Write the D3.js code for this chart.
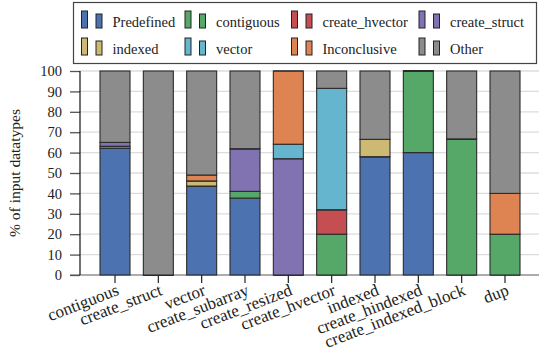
<!DOCTYPE html>
<html>
<head>
<meta charset="utf-8">
<script src="https://cdn.jsdelivr.net/npm/d3@7"></script>
<style>
  html, body { margin: 0; padding: 0; background: #fff; }
  svg { display: block; }
  text { font-family: "Liberation Serif", "Times New Roman", serif; fill: #222; }
</style>
</head>
<body>
<svg id="chart" width="539" height="352"></svg>
<script>
// Constructors (x categories)
const categories = ["contiguous", "create_struct", "vector", "create_subarray", "create_resized",
  "create_hvector", "indexed", "create_hindexed", "create_indexed_block", "dup"];

// Stacked series, bottom to top (% of input datatypes)
const seriesNames = ["Predefined", "contiguous", "create_hvector", "create_struct",
  "indexed", "vector", "Inconclusive", "Other"];
const predefined    = [62.1, 0, 43.6, 37.7, 0, 0, 58.0, 60.0, 0, 0];
const contiguous    = [1.0, 0, 0, 3.3, 0, 20.0, 0, 40.0, 66.7, 20.0];
const createHvector = [0, 0, 0, 0, 0, 12.0, 0, 0, 0, 0];
const createStruct  = [1.9, 0, 0, 20.9, 57.0, 0, 0, 0, 0, 0];
const indexed       = [0, 0, 2.5, 0, 0, 0, 8.5, 0, 0, 0];
const vector        = [0, 0, 0, 0, 7.1, 59.5, 0, 0, 0, 0];
const inconclusive  = [0, 0, 2.9, 0, 35.9, 0, 0, 0, 0, 20.0];
const other         = [35.0, 100, 51.0, 38.1, 0, 8.5, 33.5, 0, 33.3, 60.0];
const seriesValues = [predefined, contiguous, createHvector, createStruct,
  indexed, vector, inconclusive, other];

const yTicks = [0, 10, 20, 30, 40, 50, 60, 70, 80, 90, 100];
const yLabel = "% of input datatypes";

const colors = ["#4C72B0", "#55A868", "#C44E52", "#8172B2", "#CCB974", "#64B5CD", "#DD8452", "#8C8C8C"];
const edge = "#2b2b2b";

const svg = d3.select("#chart");
const plot = { left: 80, right: 540, top: 71, bottom: 275 };

const x = d3.scaleBand().domain(categories)
  .range([plot.left, plot.right]).paddingInner(0.3077).paddingOuter(0.4615);
const y = d3.scaleLinear().domain([0, 100]).range([plot.bottom, plot.top]);

// table for d3.stack
const rows = categories.map((c, i) => {
  const r = { cat: c };
  seriesNames.forEach((s, j) => { r[s] = seriesValues[j][i]; });
  return r;
});
const stacked = d3.stack().keys(seriesNames)(rows);

// gridlines
svg.append("g").selectAll("line").data(yTicks).join("line")
  .attr("x1", plot.left).attr("x2", 539)
  .attr("y1", d => y(d)).attr("y2", d => y(d))
  .attr("stroke", "#dcdcdc").attr("stroke-width", 1.3);

// baseline
svg.append("line").attr("x1", 70).attr("x2", 539).attr("y1", y(0)).attr("y2", y(0))
  .attr("stroke", "#999").attr("stroke-width", 1.5);

// bars
const layers = svg.append("g").selectAll("g").data(stacked).join("g")
  .attr("fill", (d, i) => colors[i]);
layers.selectAll("rect").data(d => d.filter(p => p[1] - p[0] > 0)).join("rect")
  .attr("x", d => x(d.data.cat))
  .attr("width", x.bandwidth())
  .attr("y", d => y(d[1]))
  .attr("height", d => y(d[0]) - y(d[1]))
  .attr("stroke", edge).attr("stroke-width", 1.1);
// empty segments still leave their outline as a flat edge
layers.selectAll("line").data(d => d.filter(p => p[1] - p[0] <= 0)).join("line")
  .attr("x1", d => x(d.data.cat)).attr("x2", d => x(d.data.cat) + x.bandwidth())
  .attr("y1", d => y(d[0])).attr("y2", d => y(d[0]))
  .attr("stroke", edge).attr("stroke-width", 1.1);

// y axis
const yAxis = svg.append("g").attr("transform", `translate(${plot.left},0)`)
  .call(d3.axisLeft(y).tickValues(yTicks).tickSize(10).tickPadding(8).tickFormat(d3.format("d")));
yAxis.select(".domain").remove();
yAxis.selectAll(".tick line").attr("stroke", "#555").attr("stroke-width", 1.3);
yAxis.selectAll(".tick text").attr("font-size", "14.5px")
  .attr("font-family", "Liberation Serif, serif").attr("fill", "#222");

// left spine
svg.append("line").attr("x1", plot.left).attr("x2", plot.left).attr("y1", y(100)).attr("y2", y(0))
  .attr("stroke", "#111").attr("stroke-width", 1.2);

// x axis ticks and rotated labels
const xAxis = svg.append("g").attr("transform", `translate(0,${plot.bottom})`)
  .call(d3.axisBottom(x).tickSize(8).tickFormat(""));
xAxis.select(".domain").remove();
xAxis.selectAll(".tick line").attr("stroke", "#222").attr("stroke-width", 1.2);

const angle = 21;
const fs = 17;
svg.append("g").selectAll("text").data(categories).join("text")
  .attr("text-anchor", "end")
  .attr("font-size", fs + "px")
  .attr("dy", "0.72em")
  .attr("transform", d => {
    const cx = x(d) + x.bandwidth() / 2 + 0.5;
    return `translate(${cx},${plot.bottom + 8}) rotate(${-angle})`;
  })
  .text(d => d);

// y label
svg.append("text")
  .attr("transform", `translate(20,${(plot.top + plot.bottom) / 2}) rotate(-90)`)
  .attr("text-anchor", "middle").attr("font-size", "15.5px")
  .text(yLabel);

// legend
const legend = svg.append("g");
legend.append("rect").attr("x", 73.5).attr("y", 2.5).attr("width", 463).attr("height", 61)
  .attr("fill", "#fff").attr("stroke", "#444").attr("stroke-width", 1.2);
const colX = [81.5, 185, 291.5, 419];
const rowBottom = [28, 55];
const items = legend.selectAll("g.item").data(seriesNames).join("g").attr("class", "item")
  .attr("transform", (d, i) => `translate(${colX[i % 4]},${rowBottom[Math.floor(i / 4)]})`);
items.append("rect").attr("x", 0).attr("y", -17).attr("width", 6).attr("height", 17)
  .attr("fill", (d, i) => colors[i]).attr("stroke", "#222").attr("stroke-width", 1);
items.append("rect").attr("x", 14.5).attr("y", -14).attr("width", 6).attr("height", 14)
  .attr("fill", (d, i) => colors[i]).attr("stroke", "#222").attr("stroke-width", 1);
items.append("text").attr("x", 31).attr("y", -1.5).attr("font-size", "14.5px").text(d => d);
</script>
</body>
</html>
